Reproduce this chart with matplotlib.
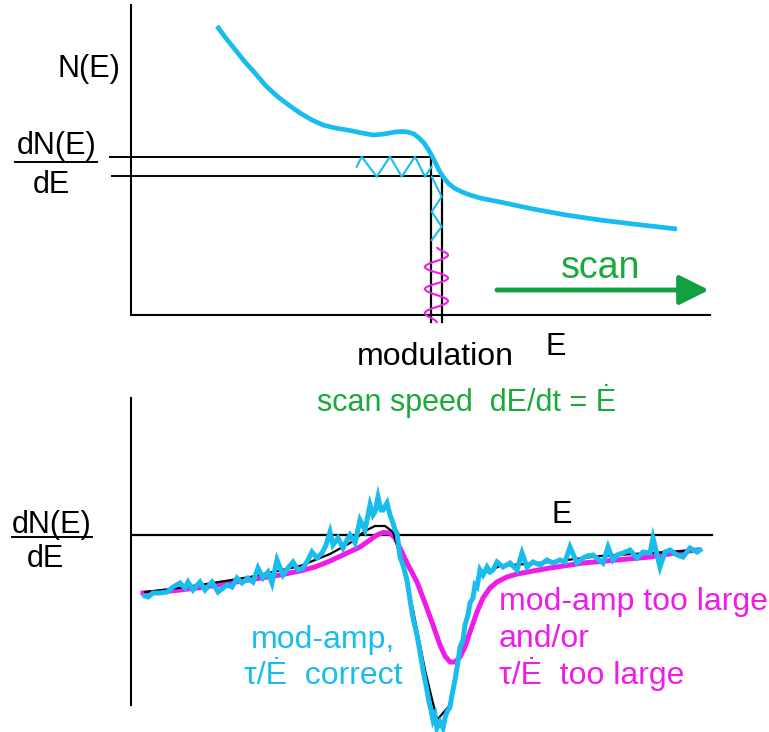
import matplotlib
matplotlib.use("Agg")
import matplotlib.pyplot as plt
from matplotlib.path import Path
from matplotlib.patches import PathPatch

plt.rcParams['font.family'] = ['Liberation Sans', 'DejaVu Sans']

# ---------------- data (energy E, signal) ----------------
# top panel: N(E) spectrum
top_E = [86, 94, 102, 114, 124, 135, 147, 159, 169, 181, 192, 204, 219, 231, 242, 249,
         256, 264, 271, 277, 283, 288, 293, 297, 301, 305, 309, 313, 318, 324, 331, 339,
         349, 369, 402, 435, 469, 502, 546]
top_N = [289, 278, 268, 253, 242, 229, 218, 209, 202, 195, 190, 187, 184.5, 182, 180, 180.5,
         181.5, 183, 183.5, 183, 181, 177, 172, 166, 159, 151, 143, 137, 131, 126.5, 123, 120,
         117, 113, 106, 100, 95, 91, 86]

# modulation window (two levels / two energies)
win_N = [158, 139]
win_E = [300, 311]
win_left = [-21, -19]
win_bottom = -7

# modulation seen on N (horizontal zigzag) and on E (vertical zigzag)
zz_h_E = [225.7, 230.7, 245.7, 259, 270.7, 284, 294, 300.7]
zz_h_N = [148.3, 158.3, 138.3, 158.3, 138.3, 158.3, 138.3, 148.3]
zz_v_E = [300.7, 310.7, 300.7, 310.7, 300.7]
zz_v_N = [138.3, 118.3, 103.3, 88.3, 75]

# energy modulation wave (turning points)
mod_E = [306, 317, 294, 317, 294, 317, 294, 306]
mod_N = [68, 60, 48, 37, 26, 14, 2, -8]

# bottom panel: derivative spectra
mag_E = [12, 29, 49, 74, 99, 124, 149, 169, 184, 199, 214, 229, 239, 246, 252, 259, 264,
         269, 276, 286, 294, 302, 309, 314, 319, 324, 329, 334, 339, 346, 352, 359, 366,
         376, 386, 402, 419, 452, 486, 519, 544, 566]
mag_S = [-58, -57, -55, -52, -48, -44, -40, -36, -32, -26, -19, -12, -5, 0, 2.5, 2, -3,
         -13, -28, -47, -68, -90, -110, -121, -127, -127, -122, -112, -97, -77, -63, -53, -47,
         -42, -39, -36, -33, -28, -25, -22, -18, -15]

blk_E = [14, 39, 69, 119, 169, 199, 219, 234, 244, 254, 262, 269, 282, 294, 306, 319, 329,
         339, 349, 369, 419, 469, 519, 569]
blk_S = [-57, -54, -50, -42, -31, -19, -8, 4, 9, 9, 3, -20, -75, -135, -185, -170, -115,
         -70, -40, -31, -27, -21, -18, -15]

cy_E = [14, 17, 22, 29, 36, 42, 49, 54, 57, 62, 69, 74, 81, 87, 96, 101, 106, 111, 117,
        122, 127, 132, 137, 141, 146, 152, 157, 162, 167, 172, 177, 181, 186, 191, 195, 199,
        202, 207, 212, 216, 219, 224, 229, 234, 239, 242, 244, 247, 250, 252, 256, 259, 261,
        264, 266, 269, 272, 276, 279, 282, 286, 289, 292, 295, 298, 300, 302, 304, 306, 309,
        312, 314, 316, 319, 321, 324, 327, 329, 332, 334, 337, 339, 342, 344, 346, 349, 352,
        356, 359, 362, 366, 372, 379, 386, 391, 396, 402, 409, 416, 422, 429, 434, 439, 446,
        452, 456, 462, 472, 477, 482, 486, 492, 499, 506, 512, 519, 522, 529, 534, 539, 546,
        552, 559, 566, 569]
cy_S = [-61, -62, -58, -58, -57, -52, -48, -53, -47, -55, -47, -55, -47, -57, -50, -52, -43,
        -48, -43, -47, -33, -43, -37, -48, -25, -40, -33, -27, -35, -33, -25, -17, -23, -18,
        -10, 3, -10, -3, -13, -5, 0, -8, 15, 5, 30, 20, 23, 38, 25, 25, 32, 20, 15, 5, 2, -22,
        -30, -45, -65, -83, -100, -117, -135, -150, -167, -175, -185, -180, -193, -187, -193,
        -183, -177, -172, -160, -145, -127, -112, -105, -90, -80, -68, -63, -50, -52, -35, -40,
        -32, -37, -35, -27, -32, -28, -35, -18, -32, -27, -30, -25, -28, -25, -27, -12, -28,
        -23, -21, -20, -28, -12, -25, -20, -18, -15, -23, -17, -18, -3, -32, -17, -15, -20,
        -22, -13, -17, -15]

# ---------------- style ----------------
CYAN = '#18BDEE'
MAG = '#EE1CE8'
GREEN = '#1AAA3C'
FS = 22
FS2 = 23

W, H = 769, 732
fig = plt.figure(figsize=(W / 100, H / 100), dpi=100)

# top axes: E = px-131, N = 315-py
ax1 = fig.add_axes([131 / W, (H - 315) / H, (W - 131) / W, 315 / H])
ax1.set_xlim(0, W - 131)
ax1.set_ylim(0, 315)
# bottom axes: E = px-131, S = 535-py
ax2 = fig.add_axes([131 / W, 0, (W - 131) / W, 362 / H])
ax2.set_xlim(0, W - 131)
ax2.set_ylim(535 - H, 535 - 370)

for ax in (ax1, ax2):
    ax.set_xticks([])
    ax.set_yticks([])
    ax.patch.set_alpha(0)
    for s in ('top', 'right'):
        ax.spines[s].set_visible(False)
    for s in ('left', 'bottom'):
        ax.spines[s].set_linewidth(1.5)

ax1.spines['left'].set_bounds(0, 310)
ax1.spines['bottom'].set_bounds(0, 579)
ax2.spines['left'].set_bounds(535 - 705, 535 - 398)
ax2.spines['bottom'].set_visible(False)

# ---------- top panel ----------
for lvl, left, e in zip(win_N, win_left, win_E):
    ax1.plot([left, e], [lvl, lvl], color='black', lw=1.4, clip_on=False, zorder=2)
for lvl, e in zip(win_N, win_E):
    ax1.plot([e, e], [lvl, win_bottom], color='black', lw=1.6, clip_on=False, zorder=2)

ax1.plot(zz_h_E, zz_h_N, color=CYAN, lw=1.5, zorder=3)
ax1.plot(zz_v_E, zz_v_N, color=CYAN, lw=1.5, zorder=3)

# smooth wave through turning points
verts = [(mod_E[0], mod_N[0])]
codes = [Path.MOVETO]
k = 0.38
for i in range(len(mod_E) - 1):
    x0, y0, x1, y1 = mod_E[i], mod_N[i], mod_E[i + 1], mod_N[i + 1]
    dy = y1 - y0
    verts += [(x0, y0 + k * dy), (x1, y1 - k * dy), (x1, y1)]
    codes += [Path.CURVE4] * 3
ax1.add_patch(PathPatch(Path(verts, codes), fill=False, edgecolor=MAG, lw=1.5,
                        clip_on=False, zorder=3))

ax1.plot(top_E, top_N, color=CYAN, lw=3.4, solid_capstyle='butt', solid_joinstyle='round',
         zorder=4)

ax1.annotate('', xy=(578, 25), xytext=(366, 25),
             arrowprops=dict(arrowstyle='-|>,head_length=0.9,head_width=0.45', lw=3.5,
                             color='#12A040', shrinkA=0, shrinkB=0, mutation_scale=20),
             annotation_clip=False)
ax1.text(430, 37, 'scan', color=GREEN, fontsize=27, ha='left', va='baseline')

ax1.text(-42, 238, 'N(E)', fontsize=FS, ha='center', va='baseline')
ax1.text(-74, 161, 'dN(E)', fontsize=FS, ha='center', va='baseline')
ax1.plot([-116, -34], [153, 153], color='black', lw=1.4, clip_on=False)
ax1.text(-79.5, 122, 'dE', fontsize=FS, ha='center', va='baseline')
ax1.text(226, -50, 'modulation', fontsize=FS2, ha='left', va='baseline')
ax1.text(415, -40, 'E', fontsize=FS, ha='left', va='baseline')
ax1.text(186, -96, 'scan speed  dE/dt = Ė', fontsize=FS, color=GREEN,
         ha='left', va='baseline')

# ---------- bottom panel ----------
ax2.plot([0, 581], [0, 0], color='black', lw=1.6, zorder=1)
ax2.plot(mag_E, mag_S, color=MAG, lw=3.6, solid_joinstyle='round', zorder=2)
ax2.plot(blk_E, blk_S, color='black', lw=1.6, zorder=3)
ax2.plot(cy_E, cy_S, color=CYAN, lw=3.6, solid_joinstyle='miter', zorder=4)

ax2.text(-79, 2, 'dN(E)', fontsize=FS, ha='center', va='baseline')
ax2.plot([-119, -39], [-1.5, -1.5], color='black', lw=1.4, clip_on=False)
ax2.text(-85.5, -32, 'dE', fontsize=FS, ha='center', va='baseline')
ax2.text(420, 12, 'E', fontsize=FS, ha='left', va='baseline')

ax2.text(368, -75, 'mod-amp too large', fontsize=FS2, color=MAG, ha='left', va='baseline')
ax2.text(368, -112, 'and/or', fontsize=FS2, color=MAG, ha='left', va='baseline')
ax2.text(368, -149, 'τ/Ė  too large', fontsize=FS2, color=MAG, ha='left', va='baseline')
ax2.text(192, -113, 'mod-amp,', fontsize=FS2, color=CYAN, ha='center', va='baseline')
ax2.text(192, -149, 'τ/Ė  correct', fontsize=FS2, color=CYAN, ha='center', va='baseline')

fig.savefig('out.png', dpi=100)
